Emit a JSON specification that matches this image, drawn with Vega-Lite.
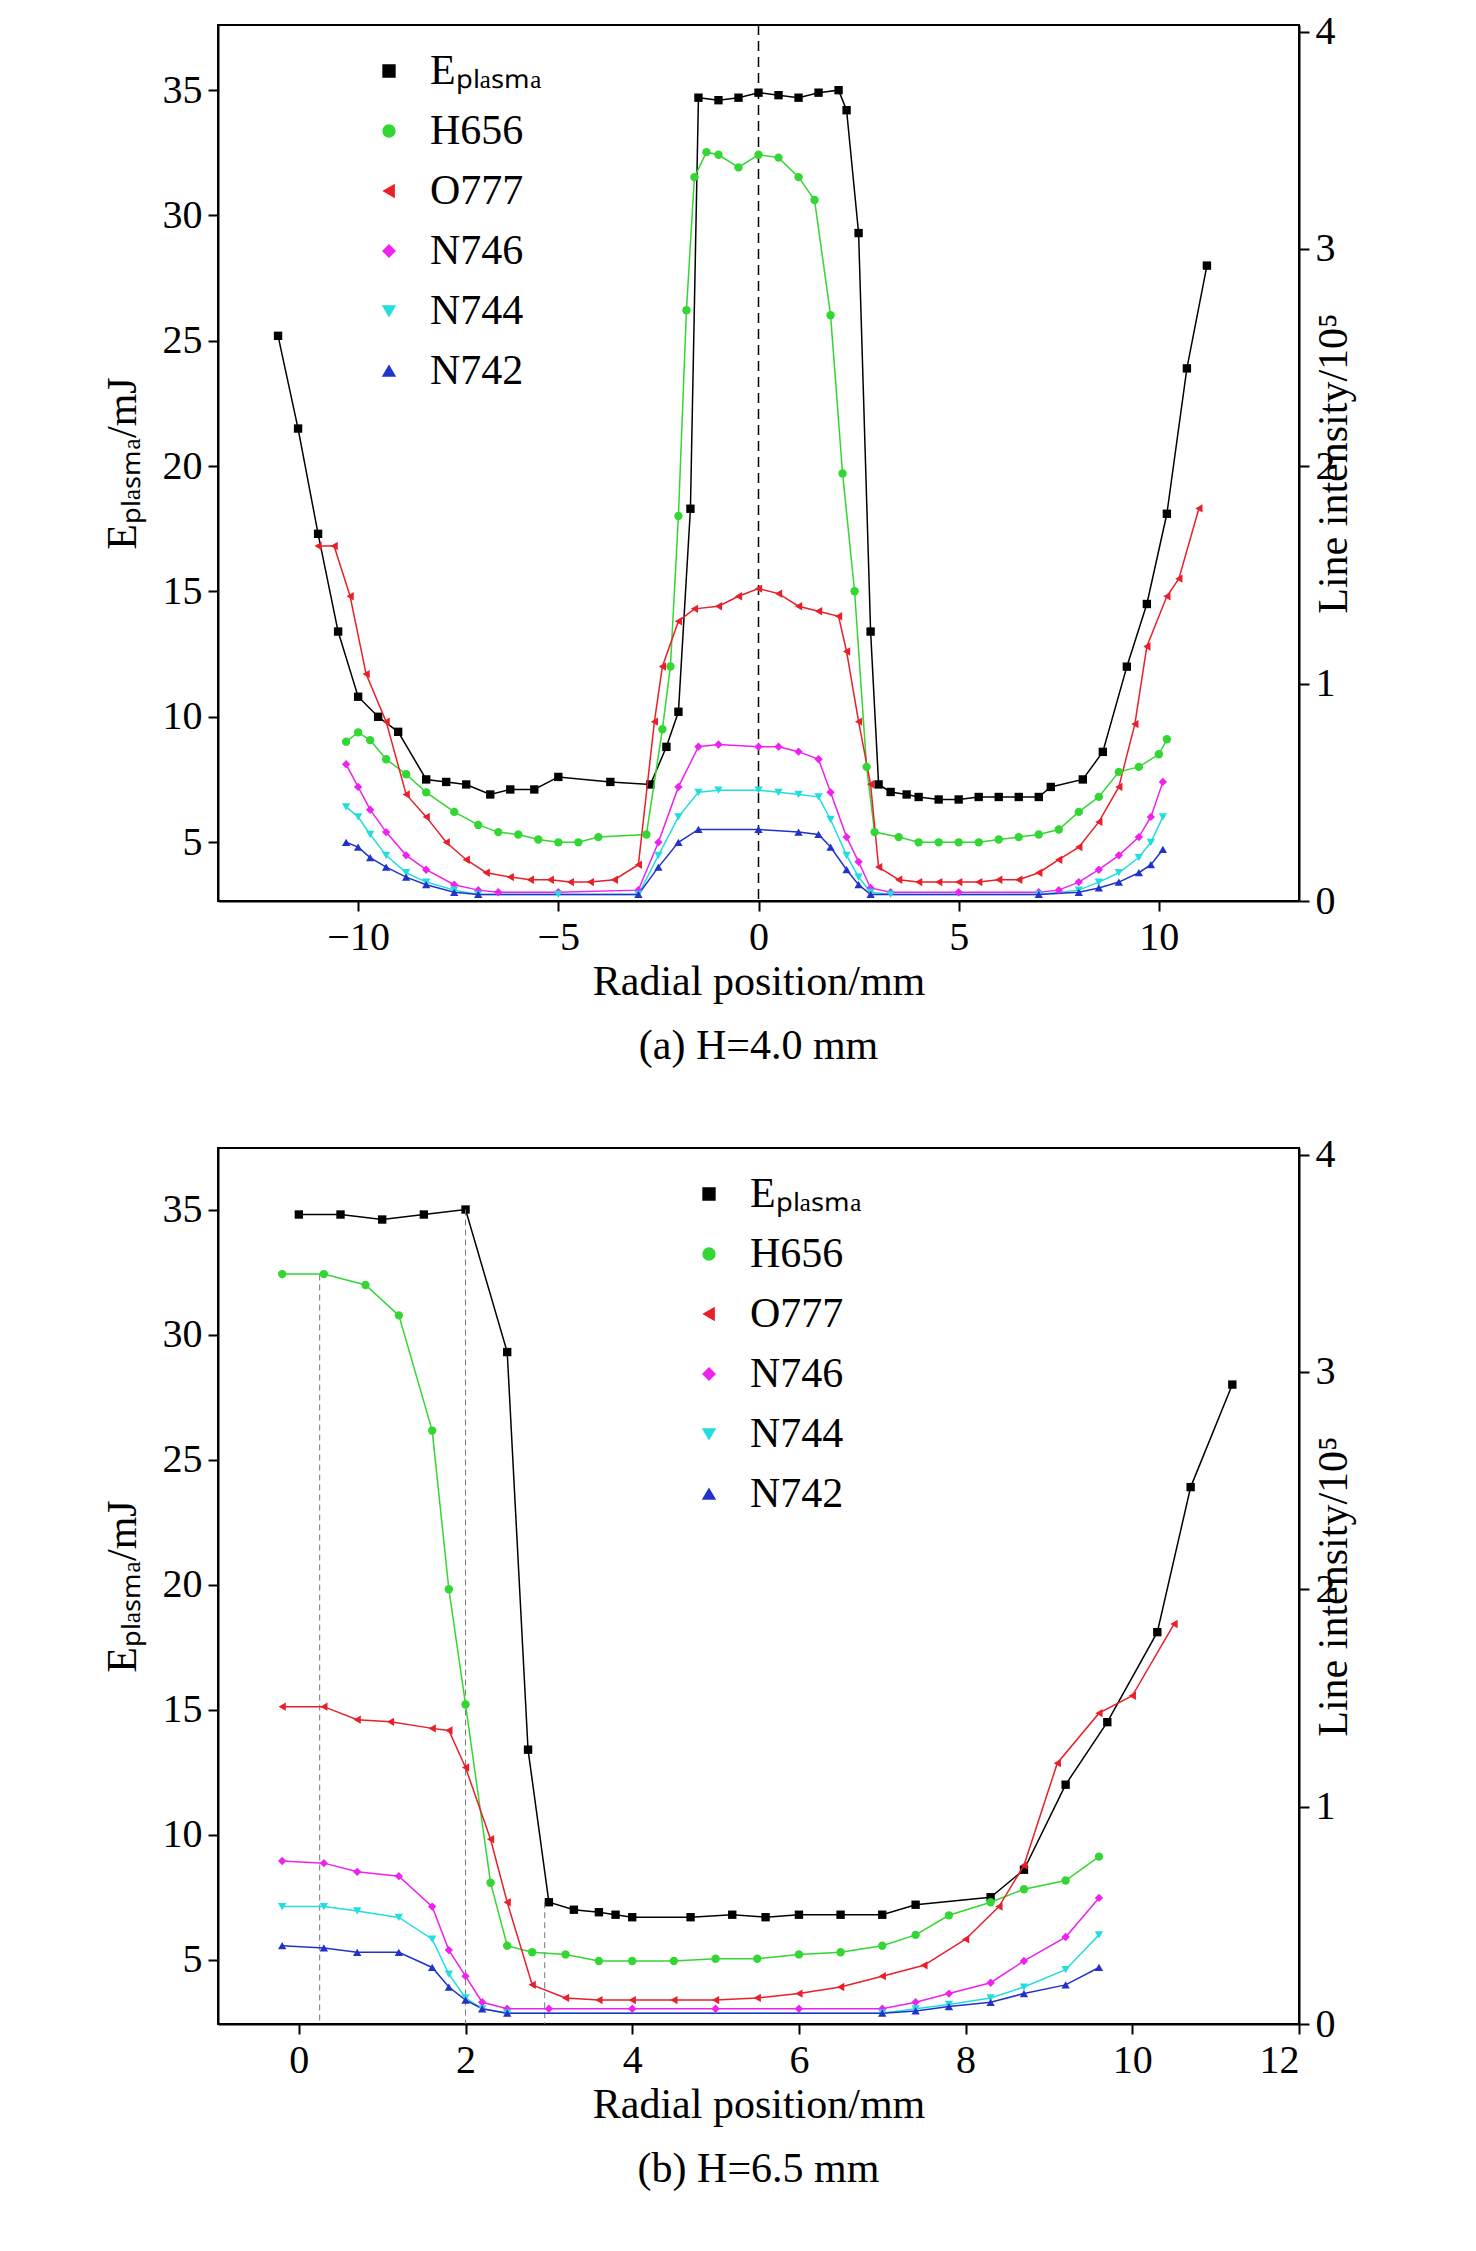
{
"$schema":"https://vega.github.io/schema/vega-lite/v6.json",
"background":"white",
"padding":{"left":100,"top":10,"right":10,"bottom":5},
"spacing":65,
"config":{"font":"Liberation Serif","view":{"stroke":"black","strokeWidth":2},
"axis":{"labelFontSize":40,"titleFontSize":42,"labelFont":"Liberation Serif","titleFont":"Liberation Serif","titleFontWeight":"normal","labelColor":"black","titleColor":"black","domainColor":"black","tickColor":"black","domainWidth":2,"tickWidth":2,"tickSize":10,"grid":false,"labelPadding":6},
"legend":{"labelFontSize":42,"labelFont":"Liberation Serif","labelColor":"black","symbolSize":140,"symbolStrokeWidth":1.5,"rowPadding":18,"labelOffset":20}},
"resolve":{"scale":{"color":"independent","shape":"independent"}},
"datasets":{
"ea":[{"x":-12,"v":25.2},{"x":-11.5,"v":21.5},{"x":-11,"v":17.3},{"x":-10.5,"v":13.4},{"x":-10,"v":10.8},{"x":-9.5,"v":10},{"x":-9,"v":9.4},{"x":-8.3,"v":7.5},{"x":-7.8,"v":7.4},{"x":-7.3,"v":7.3},{"x":-6.7,"v":6.9},{"x":-6.2,"v":7.1},{"x":-5.6,"v":7.1},{"x":-5,"v":7.6},{"x":-3.7,"v":7.4},{"x":-2.7,"v":7.3},{"x":-2.3,"v":8.8},{"x":-2,"v":10.2},{"x":-1.7,"v":18.3},{"x":-1.5,"v":34.7},{"x":-1,"v":34.6},{"x":-0.5,"v":34.7},{"x":0,"v":34.9},{"x":0.5,"v":34.8},{"x":1,"v":34.7},{"x":1.5,"v":34.9},{"x":2,"v":35},{"x":2.2,"v":34.2},{"x":2.5,"v":29.3},{"x":2.8,"v":13.4},{"x":3,"v":7.3},{"x":3.3,"v":7},{"x":3.7,"v":6.9},{"x":4,"v":6.8},{"x":4.5,"v":6.7},{"x":5,"v":6.7},{"x":5.5,"v":6.8},{"x":6,"v":6.8},{"x":6.5,"v":6.8},{"x":7,"v":6.8},{"x":7.3,"v":7.2},{"x":8.1,"v":7.5},{"x":8.6,"v":8.6},{"x":9.2,"v":12},{"x":9.7,"v":14.5},{"x":10.2,"v":18.1},{"x":10.7,"v":23.9},{"x":11.2,"v":28}],
"ia":[
{"s":"H656","x":-10.3,"v":0.733},{"s":"H656","x":-10,"v":0.776},{"s":"H656","x":-9.7,"v":0.74},{"s":"H656","x":-9.3,"v":0.652},{"s":"H656","x":-8.8,"v":0.583},{"s":"H656","x":-8.3,"v":0.5},{"s":"H656","x":-7.6,"v":0.41},{"s":"H656","x":-7,"v":0.35},{"s":"H656","x":-6.5,"v":0.317},{"s":"H656","x":-6,"v":0.306},{"s":"H656","x":-5.5,"v":0.283},{"s":"H656","x":-5,"v":0.27},{"s":"H656","x":-4.5,"v":0.27},{"s":"H656","x":-4,"v":0.294},{"s":"H656","x":-2.8,"v":0.306},{"s":"H656","x":-2.4,"v":0.79},{"s":"H656","x":-2.2,"v":1.079},{"s":"H656","x":-2,"v":1.771},{"s":"H656","x":-1.8,"v":2.718},{"s":"H656","x":-1.6,"v":3.33},{"s":"H656","x":-1.3,"v":3.445},{"s":"H656","x":-1,"v":3.433},{"s":"H656","x":-0.5,"v":3.375},{"s":"H656","x":0,"v":3.433},{"s":"H656","x":0.5,"v":3.42},{"s":"H656","x":1,"v":3.33},{"s":"H656","x":1.4,"v":3.225},{"s":"H656","x":1.8,"v":2.695},{"s":"H656","x":2.1,"v":1.967},{"s":"H656","x":2.4,"v":1.425},{"s":"H656","x":2.7,"v":0.617},{"s":"H656","x":2.9,"v":0.317},{"s":"H656","x":3.5,"v":0.294},{"s":"H656","x":4,"v":0.27},{"s":"H656","x":4.5,"v":0.27},{"s":"H656","x":5,"v":0.27},{"s":"H656","x":5.5,"v":0.27},{"s":"H656","x":6,"v":0.283},{"s":"H656","x":6.5,"v":0.294},{"s":"H656","x":7,"v":0.306},{"s":"H656","x":7.5,"v":0.329},{"s":"H656","x":8,"v":0.41},{"s":"H656","x":8.5,"v":0.479},{"s":"H656","x":9,"v":0.594},{"s":"H656","x":9.5,"v":0.617},{"s":"H656","x":10,"v":0.675},{"s":"H656","x":10.2,"v":0.744},
{"s":"O777","x":-11,"v":1.633},{"s":"O777","x":-10.6,"v":1.633},{"s":"O777","x":-10.2,"v":1.402},{"s":"O777","x":-9.8,"v":1.044},{"s":"O777","x":-9.3,"v":0.825},{"s":"O777","x":-8.8,"v":0.49},{"s":"O777","x":-8.3,"v":0.387},{"s":"O777","x":-7.8,"v":0.27},{"s":"O777","x":-7.3,"v":0.19},{"s":"O777","x":-6.8,"v":0.13},{"s":"O777","x":-6.2,"v":0.11},{"s":"O777","x":-5.7,"v":0.098},{"s":"O777","x":-5.2,"v":0.098},{"s":"O777","x":-4.7,"v":0.087},{"s":"O777","x":-4.2,"v":0.087},{"s":"O777","x":-3.6,"v":0.098},{"s":"O777","x":-3,"v":0.167},{"s":"O777","x":-2.6,"v":0.825},{"s":"O777","x":-2.4,"v":1.079},{"s":"O777","x":-2,"v":1.287},{"s":"O777","x":-1.6,"v":1.344},{"s":"O777","x":-1,"v":1.356},{"s":"O777","x":-0.5,"v":1.402},{"s":"O777","x":0,"v":1.437},{"s":"O777","x":0.5,"v":1.414},{"s":"O777","x":1,"v":1.356},{"s":"O777","x":1.5,"v":1.333},{"s":"O777","x":2,"v":1.31},{"s":"O777","x":2.2,"v":1.148},{"s":"O777","x":2.5,"v":0.825},{"s":"O777","x":2.8,"v":0.537},{"s":"O777","x":3,"v":0.156},{"s":"O777","x":3.5,"v":0.098},{"s":"O777","x":4,"v":0.087},{"s":"O777","x":4.5,"v":0.087},{"s":"O777","x":5,"v":0.087},{"s":"O777","x":5.5,"v":0.087},{"s":"O777","x":6,"v":0.098},{"s":"O777","x":6.5,"v":0.098},{"s":"O777","x":7,"v":0.13},{"s":"O777","x":7.5,"v":0.19},{"s":"O777","x":8,"v":0.248},{"s":"O777","x":8.5,"v":0.364},{"s":"O777","x":9,"v":0.525},{"s":"O777","x":9.4,"v":0.814},{"s":"O777","x":9.7,"v":1.171},{"s":"O777","x":10.2,"v":1.402},{"s":"O777","x":10.5,"v":1.483},{"s":"O777","x":11,"v":1.806},
{"s":"N746","x":-10.3,"v":0.629},{"s":"N746","x":-10,"v":0.525},{"s":"N746","x":-9.7,"v":0.42},{"s":"N746","x":-9.3,"v":0.317},{"s":"N746","x":-8.8,"v":0.21},{"s":"N746","x":-8.3,"v":0.144},{"s":"N746","x":-7.6,"v":0.075},{"s":"N746","x":-7,"v":0.05},{"s":"N746","x":-6.5,"v":0.04},{"s":"N746","x":-5,"v":0.04},{"s":"N746","x":-3,"v":0.05},{"s":"N746","x":-2.5,"v":0.27},{"s":"N746","x":-2,"v":0.525},{"s":"N746","x":-1.5,"v":0.71},{"s":"N746","x":-1,"v":0.72},{"s":"N746","x":0,"v":0.71},{"s":"N746","x":0.5,"v":0.71},{"s":"N746","x":1,"v":0.687},{"s":"N746","x":1.5,"v":0.652},{"s":"N746","x":1.8,"v":0.5},{"s":"N746","x":2.2,"v":0.294},{"s":"N746","x":2.5,"v":0.18},{"s":"N746","x":2.8,"v":0.06},{"s":"N746","x":3.3,"v":0.04},{"s":"N746","x":5,"v":0.04},{"s":"N746","x":7,"v":0.04},{"s":"N746","x":7.5,"v":0.05},{"s":"N746","x":8,"v":0.087},{"s":"N746","x":8.5,"v":0.144},{"s":"N746","x":9,"v":0.21},{"s":"N746","x":9.5,"v":0.294},{"s":"N746","x":9.8,"v":0.387},{"s":"N746","x":10.1,"v":0.548},
{"s":"N744","x":-10.3,"v":0.433},{"s":"N744","x":-10,"v":0.387},{"s":"N744","x":-9.7,"v":0.306},{"s":"N744","x":-9.3,"v":0.21},{"s":"N744","x":-8.8,"v":0.13},{"s":"N744","x":-8.3,"v":0.087},{"s":"N744","x":-7.6,"v":0.05},{"s":"N744","x":-7,"v":0.03},{"s":"N744","x":-5,"v":0.03},{"s":"N744","x":-3,"v":0.03},{"s":"N744","x":-2.5,"v":0.21},{"s":"N744","x":-2,"v":0.387},{"s":"N744","x":-1.5,"v":0.5},{"s":"N744","x":-1,"v":0.51},{"s":"N744","x":0,"v":0.51},{"s":"N744","x":0.5,"v":0.5},{"s":"N744","x":1,"v":0.49},{"s":"N744","x":1.5,"v":0.479},{"s":"N744","x":1.8,"v":0.375},{"s":"N744","x":2.2,"v":0.21},{"s":"N744","x":2.5,"v":0.11},{"s":"N744","x":2.8,"v":0.04},{"s":"N744","x":3.3,"v":0.03},{"s":"N744","x":7,"v":0.03},{"s":"N744","x":8,"v":0.05},{"s":"N744","x":8.5,"v":0.087},{"s":"N744","x":9,"v":0.13},{"s":"N744","x":9.5,"v":0.2},{"s":"N744","x":9.8,"v":0.27},{"s":"N744","x":10.1,"v":0.387},
{"s":"N742","x":-10.3,"v":0.27},{"s":"N742","x":-10,"v":0.248},{"s":"N742","x":-9.7,"v":0.2},{"s":"N742","x":-9.3,"v":0.156},{"s":"N742","x":-8.8,"v":0.11},{"s":"N742","x":-8.3,"v":0.075},{"s":"N742","x":-7.6,"v":0.04},{"s":"N742","x":-7,"v":0.03},{"s":"N742","x":-3,"v":0.03},{"s":"N742","x":-2.5,"v":0.156},{"s":"N742","x":-2,"v":0.27},{"s":"N742","x":-1.5,"v":0.329},{"s":"N742","x":0,"v":0.329},{"s":"N742","x":1,"v":0.317},{"s":"N742","x":1.5,"v":0.306},{"s":"N742","x":1.8,"v":0.248},{"s":"N742","x":2.2,"v":0.144},{"s":"N742","x":2.5,"v":0.075},{"s":"N742","x":2.8,"v":0.03},{"s":"N742","x":7,"v":0.03},{"s":"N742","x":8,"v":0.04},{"s":"N742","x":8.5,"v":0.06},{"s":"N742","x":9,"v":0.087},{"s":"N742","x":9.5,"v":0.13},{"s":"N742","x":9.8,"v":0.167},{"s":"N742","x":10.1,"v":0.237}],
"eb":[{"x":0,"v":34.8},{"x":0.5,"v":34.8},{"x":1,"v":34.6},{"x":1.5,"v":34.8},{"x":2,"v":35},{"x":2.5,"v":29.3},{"x":2.75,"v":13.4},{"x":3,"v":7.3},{"x":3.3,"v":7},{"x":3.6,"v":6.9},{"x":3.8,"v":6.8},{"x":4,"v":6.7},{"x":4.7,"v":6.7},{"x":5.2,"v":6.8},{"x":5.6,"v":6.7},{"x":6,"v":6.8},{"x":6.5,"v":6.8},{"x":7,"v":6.8},{"x":7.4,"v":7.2},{"x":8.3,"v":7.5},{"x":8.7,"v":8.6},{"x":9.2,"v":12},{"x":9.7,"v":14.5},{"x":10.3,"v":18.1},{"x":10.7,"v":23.9},{"x":11.2,"v":28}],
"ib":[
{"s":"H656","x":-0.2,"v":3.45},{"s":"H656","x":0.3,"v":3.45},{"s":"H656","x":0.8,"v":3.4},{"s":"H656","x":1.2,"v":3.26},{"s":"H656","x":1.6,"v":2.73},{"s":"H656","x":1.8,"v":2.0},{"s":"H656","x":2,"v":1.47},{"s":"H656","x":2.3,"v":0.65},{"s":"H656","x":2.5,"v":0.36},{"s":"H656","x":2.8,"v":0.33},{"s":"H656","x":3.2,"v":0.32},{"s":"H656","x":3.6,"v":0.29},{"s":"H656","x":4,"v":0.29},{"s":"H656","x":4.5,"v":0.29},{"s":"H656","x":5,"v":0.3},{"s":"H656","x":5.5,"v":0.3},{"s":"H656","x":6,"v":0.32},{"s":"H656","x":6.5,"v":0.33},{"s":"H656","x":7,"v":0.36},{"s":"H656","x":7.4,"v":0.41},{"s":"H656","x":7.8,"v":0.5},{"s":"H656","x":8.3,"v":0.56},{"s":"H656","x":8.7,"v":0.62},{"s":"H656","x":9.2,"v":0.66},{"s":"H656","x":9.6,"v":0.77},
{"s":"O777","x":-0.2,"v":1.46},{"s":"O777","x":0.3,"v":1.46},{"s":"O777","x":0.7,"v":1.4},{"s":"O777","x":1.1,"v":1.39},{"s":"O777","x":1.6,"v":1.36},{"s":"O777","x":1.8,"v":1.35},{"s":"O777","x":2,"v":1.18},{"s":"O777","x":2.3,"v":0.85},{"s":"O777","x":2.5,"v":0.56},{"s":"O777","x":2.8,"v":0.18},{"s":"O777","x":3.2,"v":0.12},{"s":"O777","x":3.6,"v":0.11},{"s":"O777","x":4,"v":0.11},{"s":"O777","x":4.5,"v":0.11},{"s":"O777","x":5,"v":0.11},{"s":"O777","x":5.5,"v":0.12},{"s":"O777","x":6,"v":0.14},{"s":"O777","x":6.5,"v":0.17},{"s":"O777","x":7,"v":0.22},{"s":"O777","x":7.5,"v":0.27},{"s":"O777","x":8,"v":0.39},{"s":"O777","x":8.4,"v":0.54},{"s":"O777","x":8.7,"v":0.73},{"s":"O777","x":9.1,"v":1.2},{"s":"O777","x":9.6,"v":1.43},{"s":"O777","x":10,"v":1.51},{"s":"O777","x":10.5,"v":1.84},
{"s":"N746","x":-0.2,"v":0.75},{"s":"N746","x":0.3,"v":0.74},{"s":"N746","x":0.7,"v":0.7},{"s":"N746","x":1.2,"v":0.68},{"s":"N746","x":1.6,"v":0.54},{"s":"N746","x":1.8,"v":0.34},{"s":"N746","x":2,"v":0.22},{"s":"N746","x":2.2,"v":0.1},{"s":"N746","x":2.5,"v":0.07},{"s":"N746","x":3,"v":0.07},{"s":"N746","x":4,"v":0.07},{"s":"N746","x":5,"v":0.07},{"s":"N746","x":6,"v":0.07},{"s":"N746","x":7,"v":0.07},{"s":"N746","x":7.4,"v":0.1},{"s":"N746","x":7.8,"v":0.14},{"s":"N746","x":8.3,"v":0.19},{"s":"N746","x":8.7,"v":0.29},{"s":"N746","x":9.2,"v":0.4},{"s":"N746","x":9.6,"v":0.58},
{"s":"N744","x":-0.2,"v":0.54},{"s":"N744","x":0.3,"v":0.54},{"s":"N744","x":0.7,"v":0.52},{"s":"N744","x":1.2,"v":0.49},{"s":"N744","x":1.6,"v":0.39},{"s":"N744","x":1.8,"v":0.23},{"s":"N744","x":2,"v":0.12},{"s":"N744","x":2.2,"v":0.07},{"s":"N744","x":2.5,"v":0.05},{"s":"N744","x":7,"v":0.05},{"s":"N744","x":7.4,"v":0.07},{"s":"N744","x":7.8,"v":0.09},{"s":"N744","x":8.3,"v":0.12},{"s":"N744","x":8.7,"v":0.17},{"s":"N744","x":9.2,"v":0.25},{"s":"N744","x":9.6,"v":0.41},
{"s":"N742","x":-0.2,"v":0.36},{"s":"N742","x":0.3,"v":0.35},{"s":"N742","x":0.7,"v":0.33},{"s":"N742","x":1.2,"v":0.33},{"s":"N742","x":1.6,"v":0.26},{"s":"N742","x":1.8,"v":0.17},{"s":"N742","x":2,"v":0.11},{"s":"N742","x":2.2,"v":0.07},{"s":"N742","x":2.5,"v":0.05},{"s":"N742","x":7,"v":0.05},{"s":"N742","x":7.4,"v":0.06},{"s":"N742","x":7.8,"v":0.08},{"s":"N742","x":8.3,"v":0.1},{"s":"N742","x":8.7,"v":0.14},{"s":"N742","x":9.2,"v":0.18},{"s":"N742","x":9.6,"v":0.26}]
},
"vconcat":[
{"width":1081,"height":876,
"title":{"text":"(a) H=4.0 mm","orient":"bottom","fontSize":42,"font":"Liberation Serif","fontWeight":"normal","offset":24,"color":"black"},
"resolve":{"scale":{"y":"independent"}},
"layer":[
{"layer":[
{"data":{"name":"ea"},"transform":[{"calculate":"'Eₚₗₐₛₘₐ'","as":"s"}],
"mark":{"type":"line","point":{"filled":true,"size":70},"strokeWidth":1.5},
"encoding":{"x":{"field":"x","type":"quantitative","scale":{"domain":[-13.5,13.5],"nice":false},"axis":{"values":[-10,-5,0,5,10],"title":"Radial position/mm"}},
"y":{"field":"v","type":"quantitative","scale":{"domain":[2.65,37.6],"nice":false},"axis":{"values":[5,10,15,20,25,30,35],"title":"Eₚₗₐₛₘₐ/mJ","titlePadding":18}},
"color":{"field":"s","type":"nominal","scale":{"domain":["Eₚₗₐₛₘₐ","H656","O777","N746","N744","N742"],"range":["black","#33d633","#e8202a","#ee22ee","#22dddd","#2233cc"]},"legend":{"title":null,"orient":"none","legendX":150,"legendY":25}},
"shape":{"field":"s","type":"nominal","scale":{"domain":["Eₚₗₐₛₘₐ","H656","O777","N746","N744","N742"],"range":["square","circle","triangle-left","diamond","triangle-down","triangle-up"]},"legend":{"title":null,"orient":"none","legendX":150,"legendY":25}}}},
{"data":{"values":[{"x":0}]},"mark":{"type":"rule","strokeDash":[10,6],"color":"black","strokeWidth":1.5},"encoding":{"x":{"field":"x","type":"quantitative"}}}
]},
{"data":{"name":"ia"},
"mark":{"type":"line","point":{"filled":true,"size":70},"strokeWidth":1.5},
"encoding":{"x":{"field":"x","type":"quantitative"},
"y":{"field":"v","type":"quantitative","scale":{"domain":[0,4.03],"nice":false},"axis":{"orient":"right","values":[0,1,2,3,4],"title":"Line intensity/10⁵","titleAngle":270,"titlePadding":20}},
"color":{"field":"s","type":"nominal","legend":{"title":null,"orient":"none","legendX":150,"legendY":25}},
"shape":{"field":"s","type":"nominal","legend":{"title":null,"orient":"none","legendX":150,"legendY":25}}}}
]},
{"width":1081,"height":876,
"title":{"text":"(b) H=6.5 mm","orient":"bottom","fontSize":42,"font":"Liberation Serif","fontWeight":"normal","offset":24,"color":"black"},
"resolve":{"scale":{"y":"independent"}},
"layer":[
{"layer":[
{"data":{"name":"eb"},"transform":[{"calculate":"'Eₚₗₐₛₘₐ'","as":"s"}],
"mark":{"type":"line","point":{"filled":true,"size":70},"strokeWidth":1.5},
"encoding":{"x":{"field":"x","type":"quantitative","scale":{"domain":[-0.97,12],"nice":false},"axis":{"values":[0,2,4,6,8,10,12],"format":"d","title":"Radial position/mm"}},
"y":{"field":"v","type":"quantitative","scale":{"domain":[2.43,37.46],"nice":false},"axis":{"values":[5,10,15,20,25,30,35],"title":"Eₚₗₐₛₘₐ/mJ","titlePadding":18}},
"color":{"field":"s","type":"nominal","scale":{"domain":["Eₚₗₐₛₘₐ","H656","O777","N746","N744","N742"],"range":["black","#33d633","#e8202a","#ee22ee","#22dddd","#2233cc"]},"legend":{"title":null,"orient":"none","legendX":470,"legendY":25}},
"shape":{"field":"s","type":"nominal","scale":{"domain":["Eₚₗₐₛₘₐ","H656","O777","N746","N744","N742"],"range":["square","circle","triangle-left","diamond","triangle-down","triangle-up"]},"legend":{"title":null,"orient":"none","legendX":470,"legendY":25}}}},
{"data":{"values":[{"x":0.25,"y":32.4},{"x":2,"y":35},{"x":2.95,"y":7.3}]},"mark":{"type":"rule","strokeDash":[6,4],"color":"#777777","strokeWidth":1},"encoding":{"x":{"field":"x","type":"quantitative"},"y":{"field":"y","type":"quantitative"},"y2":{"datum":2.43}}}
]},
{"data":{"name":"ib"},
"mark":{"type":"line","point":{"filled":true,"size":70},"strokeWidth":1.5},
"encoding":{"x":{"field":"x","type":"quantitative"},
"y":{"field":"v","type":"quantitative","scale":{"domain":[0,4.03],"nice":false},"axis":{"orient":"right","values":[0,1,2,3,4],"title":"Line intensity/10⁵","titleAngle":270,"titlePadding":20}},
"color":{"field":"s","type":"nominal","legend":{"title":null,"orient":"none","legendX":470,"legendY":25}},
"shape":{"field":"s","type":"nominal","legend":{"title":null,"orient":"none","legendX":470,"legendY":25}}}}
]}
]}
